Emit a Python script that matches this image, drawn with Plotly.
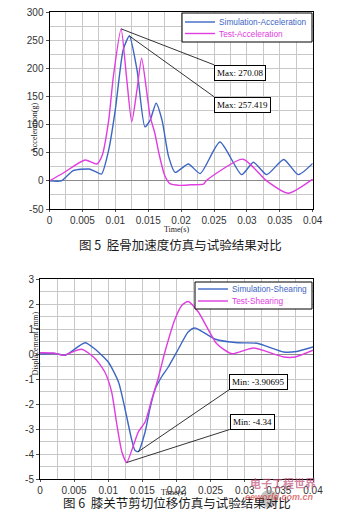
import plotly.graph_objects as go

# ---------------- data: chart 1 (tibia acceleration) ----------------
t_sim_acc = [0, 0.0018, 0.0036, 0.006, 0.0069, 0.0079, 0.009, 0.01, 0.0112, 0.01214, 0.0133,
             0.0145, 0.0153, 0.0162, 0.0171, 0.0181, 0.0191, 0.0211, 0.0229, 0.0259, 0.0292,
             0.031, 0.033, 0.0356, 0.0378, 0.04]
a_sim = [0, 0, 18, 21, 17, 12, 55, 126, 233, 257.419, 197,
         96, 108, 138, 108, 43, 15, 30, 13, 69, 11,
         33, 11, 38, 11, 31]

t_test_acc = [0, 0.0021, 0.0054, 0.0072, 0.008, 0.009, 0.0097, 0.01088, 0.0117, 0.0125, 0.0133,
              0.014, 0.0148, 0.0153, 0.016, 0.0167, 0.0175, 0.0183, 0.0198, 0.0215, 0.0234,
              0.0238, 0.0294, 0.033, 0.0363, 0.04]
a_test = [0, 14, 37, 30, 45, 108, 185, 270.08, 185, 105, 162,
          218, 156, 114, 85, 45, 10, -5, -8, -7, -6,
          0, 38.5, 0, -22, 3]

# ---------------- data: chart 2 (knee shearing displacement) ----------------
t_sim_sh = [0, 0.0022, 0.0037, 0.0066, 0.008, 0.01, 0.0115, 0.01245, 0.0134, 0.0139, 0.0144,
            0.0154, 0.0161, 0.0169, 0.0178, 0.0188, 0.0203, 0.0217, 0.0227, 0.0257, 0.029,
            0.0318, 0.0357, 0.0376, 0.04]
d_sim = [0, 0.02, -0.05, 0.45, 0.21, -0.32, -1.12, -2.19, -3.39, -3.85, -3.90695,
         -3.12, -2.19, -1.39, -0.92, -0.52, 0.21, 0.88, 1.04, 0.59, 0.45,
         0.43, 0.08, 0.1, 0.28]

t_test_sh = [0, 0.0019, 0.0034, 0.0061, 0.0081, 0.0095, 0.0105, 0.0112, 0.012, 0.0127, 0.0137,
             0.0144, 0.0154, 0.0164, 0.0173, 0.0183, 0.0198, 0.0208, 0.0217, 0.0232, 0.0259,
             0.0281, 0.0313, 0.0357, 0.0374, 0.04]
d_test = [0.05, 0.04, -0.05, 0.19, -0.19, -0.72, -1.52, -2.72, -3.92, -4.34, -3.65,
          -3.12, -2.72, -1.79, -0.99, 0.08, 1.41, 1.95, 2.1, 1.68, 0.41,
          0.01, 0.24, -0.12, -0.12, 0.15]

x_ticks = [0, 0.005, 0.01, 0.015, 0.02, 0.025, 0.03, 0.035, 0.04]
x_tick_text = ["0", "0.005", "0.01", "0.015", "0.02", "0.025", "0.03", "0.035", "0.04"]
y1_ticks = [-50, 0, 50, 100, 150, 200, 250, 300]
y2_ticks = [-5, -4, -3, -2, -1, 0, 1, 2, 3]

names = ["Simulation-Acceleration", "Test-Acceleration", "Simulation-Shearing", "Test-Shearing"]
caption1 = "图 5  胫骨加速度仿真与试验结果对比"
caption2 = "图 6  膝关节剪切位移仿真与试验结果对比"

BLUE = "#3d66c4"
MAG = "#e03ce0"
W, H = 355, 521
OFF = 8  # page body margin of the html page


def xp(px):
    return (px - OFF) / W


def yp(py):
    return 1 - (py - OFF) / H


fig = go.Figure()
line_kw = dict(width=1.4, shape="spline", smoothing=0.6)
fig.add_trace(go.Scatter(x=t_sim_acc, y=a_sim, mode="lines", name=names[0],
                         line=dict(color=BLUE, **line_kw), xaxis="x", yaxis="y"))
fig.add_trace(go.Scatter(x=t_test_acc, y=a_test, mode="lines", name=names[1],
                         line=dict(color=MAG, **line_kw), xaxis="x", yaxis="y"))
fig.add_trace(go.Scatter(x=t_sim_sh, y=d_sim, mode="lines", name=names[2],
                         line=dict(color=BLUE, **line_kw), xaxis="x2", yaxis="y2"))
fig.add_trace(go.Scatter(x=t_test_sh, y=d_test, mode="lines", name=names[3],
                         line=dict(color=MAG, **line_kw), xaxis="x2", yaxis="y2"))

tickfont = dict(family="Liberation Sans, Arial", size=10, color="#333")
GRID = "#c8c8c8"
common_x = dict(range=[0, 0.04], tickvals=x_ticks, ticktext=x_tick_text, showgrid=True,
                gridcolor=GRID, gridwidth=1, showline=True, linecolor="black", linewidth=1,
                mirror=True, ticks="outside", ticklen=2, tickcolor="#555", tickfont=tickfont,
                zeroline=False, fixedrange=True, automargin=False, ticklabeloverflow="allow",
                minor=dict(dtick=0.0025, showgrid=True, gridcolor=GRID, gridwidth=1))
common_y = dict(showgrid=True, gridcolor=GRID, showline=True, linecolor="black", mirror=True,
                ticks="outside", ticklen=3, tickcolor="#555", tickfont=tickfont,
                zeroline=True, zerolinecolor="#8a8a8a", zerolinewidth=1, automargin=False,
                fixedrange=True, ticklabeloverflow="allow")

fig.update_layout(
    width=W, height=H, margin=dict(l=0, r=0, t=0, b=0, autoexpand=False),
    paper_bgcolor="white", plot_bgcolor="white", showlegend=False,
    xaxis=dict(domain=[xp(49.5), xp(312.7)], anchor="y", **common_x),
    yaxis=dict(domain=[yp(209), yp(12)], anchor="x", range=[-50, 300],
               tickvals=y1_ticks, ticktext=[str(v) for v in y1_ticks],
               minor=dict(dtick=25, showgrid=True, gridcolor=GRID), **common_y),
    xaxis2=dict(domain=[xp(40), xp(313)], anchor="y2", **common_x),
    yaxis2=dict(domain=[yp(479), yp(279)], anchor="x2", range=[-5, 3],
                tickvals=y2_ticks, ticktext=[str(v) for v in y2_ticks],
                minor=dict(dtick=0.5, showgrid=True, gridcolor=GRID), **common_y),
)

# ---------------- legends (boxes drawn in paper space) ----------------
leg_font = "Liberation Sans, Arial"


def legend_box(x0, x1, y0, y1, entries):
    fig.add_shape(type="rect", xref="paper", yref="paper", x0=xp(x0), x1=xp(x1), y0=yp(y1), y1=yp(y0),
                  line=dict(color="black", width=1), fillcolor="white", layer="above")
    for (lx0, lx1, ly, tx, name, color) in entries:
        fig.add_shape(type="line", xref="paper", yref="paper", x0=xp(lx0), x1=xp(lx1), y0=yp(ly), y1=yp(ly),
                      line=dict(color=color, width=1.4), layer="above")
        fig.add_annotation(x=xp(tx), y=yp(ly), xref="paper", yref="paper", text=name, showarrow=False,
                           xanchor="left", yanchor="middle",
                           font=dict(family=leg_font, size=8.3, color=color))


legend_box(182, 312, 13, 42, [(185, 215, 22, 217, names[0], BLUE),
                               (185, 215, 33.5, 217, names[1], MAG)])
legend_box(195, 312, 282, 309, [(198, 228, 289, 230, names[2], BLUE),
                                (198, 228, 301, 230, names[3], MAG)])

# ---------------- peak / min callouts ----------------
ann_font = dict(family="Liberation Serif, Times New Roman", size=9, color="black")


def peak_ann(t, v, xr, yr, text, ax, ay, yanchor):
    fig.add_annotation(x=t, y=v, xref=xr, yref=yr, text=text, showarrow=True, arrowhead=0,
                       arrowwidth=0.8, arrowcolor="black", ax=ax, ay=ay, xanchor="left",
                       yanchor=yanchor, bordercolor="black", borderwidth=1, borderpad=2,
                       bgcolor="white", font=ann_font)


i = a_test.index(max(a_test))
peak_ann(t_test_acc[i], a_test[i], "x", "y", f"Max: {a_test[i]:g}", 93, 36, "top")
i = a_sim.index(max(a_sim))
peak_ann(t_sim_acc[i], a_sim[i], "x", "y", f"Max: {a_sim[i]:g}", 85, 61, "top")
i = d_sim.index(min(d_sim))
peak_ann(t_sim_sh[i], d_sim[i], "x2", "y2", f"Min: {d_sim[i]:g}", 91, -62, "bottom")
i = d_test.index(min(d_test))
peak_ann(t_test_sh[i], d_test[i], "x2", "y2", f"Min: {d_test[i]:g}", 103, -33, "bottom")

# ---------------- axis titles ----------------
title_font = dict(family="Liberation Serif, Times New Roman", size=8, color="#222")
fig.add_annotation(x=xp(176), y=yp(229.5), xref="paper", yref="paper", text="Time(s)",
                   showarrow=False, font=title_font)
fig.add_annotation(x=xp(173), y=yp(498.5), xref="paper", yref="paper", text="Time(s)",
                   showarrow=False, font=title_font)
fig.add_annotation(x=xp(28), y=yp(100), xref="paper", yref="paper", text="Acceleration(g)",
                   showarrow=False, textangle=-90, font=title_font)
fig.add_annotation(x=xp(28), y=yp(378), xref="paper", yref="paper", text="Displacement (mm)",
                   showarrow=False, textangle=-90, font=title_font)

# ---------------- captions ----------------
cap_font = dict(family="Noto Sans CJK SC", size=12.5, color="#1a1a1a")
fig.add_annotation(x=xp(180), y=yp(245), xref="paper", yref="paper", text=caption1,
                   showarrow=False, font=cap_font)
fig.add_annotation(x=xp(177), y=yp(514), xref="paper", yref="paper", text=caption2,
                   showarrow=False, font=cap_font)

# ---------------- watermark ----------------
fig.add_shape(type="circle", xref="paper", yref="paper", x0=xp(260), x1=xp(278),
              y0=yp(508), y1=yp(490), fillcolor="rgba(150,150,150,0.55)", line=dict(width=0))
fig.add_annotation(x=xp(318), y=yp(493), xref="paper", yref="paper", text="<b>电子工程世界</b>",
                   showarrow=False, font=dict(family="Noto Sans CJK SC", size=11, color="rgba(190,80,120,0.7)"))
fig.add_annotation(x=xp(316), y=yp(504), xref="paper", yref="paper", text="<i><b>eeworld.com.cn</b></i>",
                   showarrow=False, font=dict(family="Liberation Sans", size=9, color="rgba(210,60,60,0.7)"))

fig.write_html("out.html")
